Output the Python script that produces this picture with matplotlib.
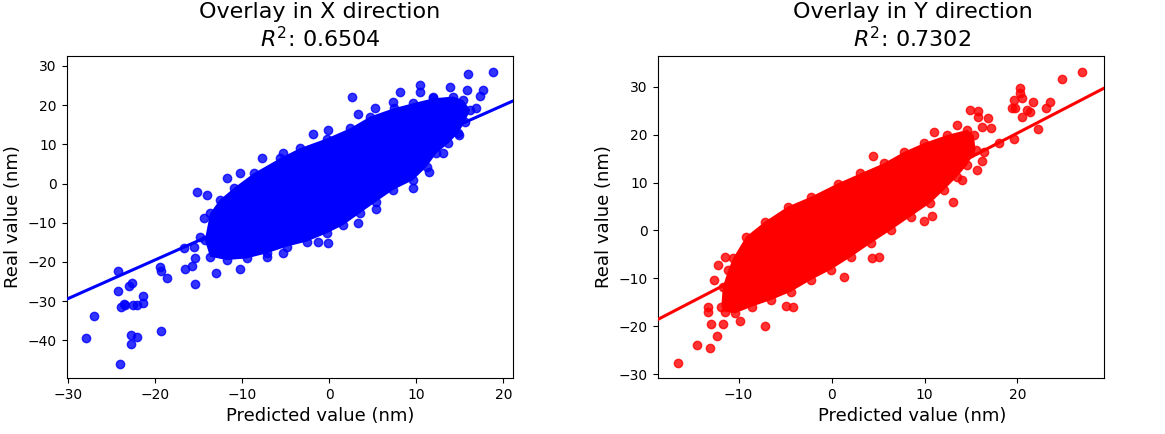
import numpy as np
import matplotlib.pyplot as plt

# --- values ---
# dense core of each cloud (outline of the solid region)
x_core_px = [-13.7, -14.3, -13.7, -12.6, -11.0, -8.7, -5.7, -3.4, -0.3, 2.4, 4.7, 7.4, 9.65,
             11.95, 14.25, 15.4, 16.2, 15.6, 14.8, 13.7, 12.3, 11.2, 9.65, 7.36, 5.4, 3.5,
             1.6, -0.3, -2.6, -4.9, -7.2, -9.5, -11.8]
x_core_real = [-18.65, -14.4, -7.6, -4.2, -1.2, 2.6, 6.4, 9.0, 11.5, 14.1, 17.1, 19.2, 20.5,
               21.75, 22.2, 21.3, 18.8, 15.8, 12.8, 10.3, 7.7, 4.3, 0.9, -1.6, -4.6, -7.6,
               -10.6, -12.7, -14.8, -16.1, -17.8, -19.1, -19.5]

y_core_px = [-11.86, -11.7, -11.1, -10.6, -9.2, -7.2, -4.7, -2.2, 0.64, 3.1, 5.6, 7.8, 9.9,
             12.4, 14.6, 15.3, 15.5, 14.6, 13.5, 12.1, 10.6, 8.5, 6.4, 4.2, 2.1, -0.1, -2.2,
             -4.4, -6.5, -8.6, -10.4, -11.5]
y_core_real = [-15.9, -11.7, -8.2, -5.8, -1.3, 1.8, 5.0, 7.05, 9.8, 11.9, 14.0, 16.4, 18.2,
               19.9, 21.0, 19.9, 16.8, 13.7, 11.2, 8.45, 5.7, 2.9, 0.1, -2.7, -5.5, -8.2,
               -10.3, -12.8, -14.5, -15.9, -17.3, -16.9]

# isolated points outside the core
x_out_pred = [18.77, 15.98, 10.42, 10.42, 13.87, 17.7, 17.3, 15.8, 8.12, 2.57, 3.33, 5.25,
              7.36, 11.95, 16.9, -1.84, -0.11, -7.78, -5.29, -10.27, -11.8, -15.25, -14.1,
              -14.4, -14.87, -15.6, -16.7, -15.4, -16.6, -15.8, -15.4, -13.0, -10.3, -7.2,
              -5.3, -0.11, -1.3, 3.26, 5.36, 9.65, 11.5, 13.1, 14.94, -19.46, -19.3, -18.7,
              -24.25, -24.25, -22.7, -23.0, -21.45, -21.45, -22.5, -22.1, -23.5, -23.9,
              -23.6, -27.0, -27.9, -22.8, -22.1, -22.8, -19.35, -24.0]
x_out_real = [28.55, 27.9, 25.2, 23.45, 24.7, 24.0, 22.3, 23.9, 23.45, 22.0, 17.75, 19.2,
              20.7, 22.2, 19.2, 12.6, 13.7, 6.6, 7.7, 2.8, 1.3, -2.1, -2.9, -8.9, -13.5,
              -16.1, -16.5, -19.1, -21.9, -21.0, -25.6, -22.7, -21.9, -18.8, -17.8, -15.25,
              -14.8, -10.1, -6.5, -1.05, 3.0, 7.7, 12.4, -21.2, -22.3, -24.1, -22.2, -27.3,
              -25.3, -26.05, -28.6, -30.4, -31.0, -31.0, -31.0, -31.4, -30.6, -33.7, -39.4,
              -38.6, -39.1, -41.0, -37.5, -45.9]

y_out_pred = [26.96, 24.75, 20.3, 20.3, 20.5, 19.6, 19.4, 19.75, 21.7, 21.0, 21.35, 20.5,
              23.5, 23.1, 22.25, 19.6, 18.0, 14.9, 15.8, 15.8, 16.8, 17.1, 16.2, 13.5, 11.07,
              4.5, 13.1, 9.9, 10.8, 4.4, 5.1, 1.36, -7.2, -9.9, -11.7, -13.0, -12.3, -14.5,
              -13.1, -16.5, -13.3, -13.3, -12.2, -11.5, -12.6, -4.2, -4.9, 14.9, 16.2, 15.6,
              16.4, 14.0]
y_out_real = [33.1, 31.6, 29.65, 28.6, 27.6, 27.2, 25.5, 25.5, 26.9, 25.1, 24.8, 23.6, 26.7,
              25.6, 21.1, 19.0, 18.2, 25.1, 25.0, 23.6, 23.4, 21.3, 21.5, 22.0, 20.6, 15.6,
              6.0, 2.05, 3.1, -5.8, -5.5, -9.8, -19.9, -18.9, -19.4, -19.5, -22.0, -23.9,
              -24.6, -27.7, -15.9, -16.9, -7.1, -5.6, -10.3, -15.9, -15.7, 16.1, 14.4, 12.6,
              16.4, 10.5]

# fitted regression lines (slope, intercept) and R^2
fit_x = (0.986, 0.26)
fit_y = (1.005, 0.23)
r2_x = 0.6504
r2_y = 0.7302

panels = [
    ("X", "blue", x_core_px, x_core_real, x_out_pred, x_out_real, fit_x, r2_x,
     (-30.18, 21.1), (-49.6, 32.55), [-30, -20, -10, 0, 10, 20], [-40, -30, -20, -10, 0, 10, 20, 30]),
    ("Y", "red", y_core_px, y_core_real, y_out_pred, y_out_real, fit_y, r2_y,
     (-18.71, 29.29), (-30.77, 36.4), [-10, 0, 10, 20], [-30, -20, -10, 0, 10, 20, 30]),
]

fig = plt.figure(figsize=(11.65, 4.34), dpi=100)
lefts = [0.0572, 0.5645]
width = 0.383
text_x = [0.568, 0.571]  # titles/xlabels sit a little right of the axes centre

for left, tx, (name, color, cx, cy, ox, oy, fit, r2, xlim, ylim, xt, yt) in zip(lefts, text_x, panels):
    ax = fig.add_axes([left, 0.129, width, 0.742])
    ax.fill(cx, cy, color=color, lw=0, zorder=2)
    ax.scatter(cx, cy, s=36, color=color, alpha=0.8, linewidths=1, zorder=2)
    ax.scatter(ox, oy, s=36, color=color, alpha=0.8, linewidths=1, zorder=2)
    lx = np.array(xlim)
    ax.plot(lx, fit[0] * lx + fit[1], color=color, lw=2.2, zorder=3)
    ax.set_xlim(*xlim)
    ax.set_ylim(*ylim)
    ax.set_xticks(xt)
    ax.set_yticks(yt)
    ax.tick_params(labelsize=10)
    ax.set_xlabel("Predicted value (nm)", fontsize=13, x=tx)
    ax.set_ylabel("Real value (nm)", fontsize=13)
    ax.set_title("Overlay in %s direction\n$R^2$: %.4f" % (name, r2), fontsize=16, x=tx)

fig.savefig("out.png", dpi=100)
